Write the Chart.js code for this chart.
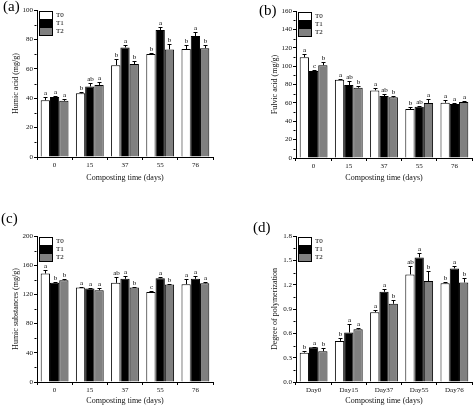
<!DOCTYPE html>
<html>
<head>
<meta charset="utf-8">
<script src="https://cdn.jsdelivr.net/npm/chart.js@4"></script>
<style>
  body { margin: 0; background: #fff; }
  #wrap { position: relative; width: 474px; height: 406px; }
  canvas { position: absolute; }
  .tag { position: absolute; font-family: "Liberation Serif", serif; font-size: 15px; line-height: 15px; color: #000; }
</style>
</head>
<body>
<div id="wrap">
  <canvas id="pa" width="237" height="200" style="left:0;top:0"></canvas>
  <canvas id="pb" width="237" height="200" style="left:237px;top:0"></canvas>
  <canvas id="pc" width="237" height="206" style="left:0;top:200px"></canvas>
  <canvas id="pd" width="237" height="206" style="left:237px;top:200px"></canvas>
  <div class="tag" style="left:3px;top:-1px">(a)</div>
  <div class="tag" style="left:259px;top:3px">(b)</div>
  <div class="tag" style="left:1px;top:211px">(c)</div>
  <div class="tag" style="left:253px;top:220px">(d)</div>
</div>
<script>
const days = ["0", "15", "37", "55", "76"];
const dayNames = ["Day0", "Day15", "Day37", "Day55", "Day76"];
const seriesNames = ["T0", "T1", "T2"];

// (a) humic acid
const haT0 = [38.6, 43.4, 62.5, 70.0, 73.4];
const haT1 = [40.8, 48.0, 74.5, 86.4, 82.3];
const haT2 = [38.2, 49.0, 63.2, 73.2, 74.0];
const haErrT0 = [2.0, 1.0, 4.0, 0.5, 2.7];
const haErrT1 = [1.0, 2.5, 1.5, 2.3, 2.7];
const haErrT2 = [1.5, 2.0, 2.0, 3.6, 2.0];
const haSigT0 = ["a", "b", "b", "b", "b"];
const haSigT1 = ["a", "ab", "a", "a", "a"];
const haSigT2 = ["a", "a", "b", "b", "b"];

// (b) fulvic acid
const faT0 = [109.7, 85.3, 73.6, 53.2, 60.1];
const faT1 = [94.8, 79.4, 67.4, 55.8, 58.7];
const faT2 = [101.0, 76.5, 66.0, 59.8, 60.9];
const faErrT0 = [3.3, 1.0, 3.0, 2.5, 3.3];
const faErrT1 = [1.0, 4.0, 2.0, 0.7, 1.5];
const faErrT2 = [3.6, 1.5, 2.0, 4.0, 1.5];
const faSigT0 = ["a", "a", "a", "b", "a"];
const faSigT1 = ["c", "ab", "ab", "ab", "a"];
const faSigT2 = ["b", "b", "b", "a", "a"];

// (c) humic substances
const hsT0 = [148.6, 129.4, 135.8, 123.4, 134.0];
const hsT1 = [135.8, 128.0, 141.3, 142.2, 141.3];
const hsT2 = [139.4, 125.7, 129.4, 133.5, 135.3];
const hsErrT0 = [4.6, 1.0, 8.0, 1.4, 7.3];
const hsErrT1 = [1.4, 1.4, 3.7, 1.8, 3.7];
const hsErrT2 = [1.8, 3.7, 1.4, 1.0, 1.4];
const hsSigT0 = ["a", "a", "ab", "c", "a"];
const hsSigT1 = ["b", "a", "a", "a", "a"];
const hsSigT2 = ["b", "a", "b", "b", "a"];

// (d) degree of polymerization
const dpT0 = [0.362, 0.507, 0.861, 1.326, 1.219];
const dpT1 = [0.428, 0.610, 1.112, 1.536, 1.400];
const dpT2 = [0.379, 0.650, 0.964, 1.244, 1.227];
const dpErrT0 = [0.025, 0.03, 0.03, 0.10, 0.02];
const dpErrT1 = [0.005, 0.10, 0.03, 0.05, 0.03];
const dpErrT2 = [0.04, 0.01, 0.05, 0.12, 0.06];
const dpSigT0 = ["b", "b", "a", "ab", "b"];
const dpSigT1 = ["a", "a", "a", "a", "a"];
const dpSigT2 = ["b", "a", "b", "b", "b"];

const fills = ["#ffffff", "#000000", "#808080"];
const serif = "'Liberation Serif', 'Times New Roman', serif";

// error bars + significance letters
const errorBars = {
  id: "errorBars",
  afterDatasetsDraw(chart) {
    const ctx = chart.ctx;
    const y = chart.scales.y;
    ctx.save();
    ctx.strokeStyle = "#000";
    ctx.lineWidth = 1;
    ctx.fillStyle = "#000";
    ctx.font = "7px " + serif;
    ctx.textAlign = "center";
    ctx.textBaseline = "bottom";
    chart.data.datasets.forEach((ds, di) => {
      chart.getDatasetMeta(di).data.forEach((bar, i) => {
        const x = Math.round(bar.x) + 0.5;
        const top = Math.round(y.getPixelForValue(ds.data[i] + ds.errors[i])) + 0.5;
        ctx.beginPath();
        ctx.moveTo(x, bar.y);
        ctx.lineTo(x, top);
        ctx.moveTo(x - 2, top);
        ctx.lineTo(x + 2, top);
        ctx.stroke();
        ctx.fillText(ds.letters[i], x, top - 1);
      });
    });
    ctx.restore();
  }
};

// small minor ticks halfway between the y labels
const minorTicks = {
  id: "minorTicks",
  afterDraw(chart) {
    const ctx = chart.ctx;
    const y = chart.scales.y;
    const x0 = Math.round(chart.chartArea.left) - 0.5;
    ctx.save();
    ctx.strokeStyle = "#000";
    ctx.lineWidth = 1;
    ctx.beginPath();
    for (let i = 0; i < y.ticks.length - 1; i++) {
      const mid = (y.ticks[i].value + y.ticks[i + 1].value) / 2;
      const py = Math.round(y.getPixelForValue(mid)) + 0.5;
      ctx.moveTo(x0, py);
      ctx.lineTo(x0 - 2, py);
    }
    ctx.stroke();
    ctx.restore();
  }
};

// legend drawn inside the plot, top left
const boxLegend = {
  id: "boxLegend",
  afterDraw(chart) {
    const ctx = chart.ctx;
    const a = chart.chartArea;
    const x0 = Math.round(a.left) + 2;
    let y0 = Math.round(a.top) + 1;
    ctx.save();
    ctx.font = "7px " + serif;
    ctx.textBaseline = "middle";
    chart.data.datasets.forEach((ds) => {
      ctx.fillStyle = ds.backgroundColor;
      ctx.fillRect(x0, y0, 14, 8);
      ctx.strokeStyle = "#000";
      ctx.strokeRect(x0 + 0.5, y0 + 0.5, 13, 8);
      ctx.fillStyle = "#000";
      ctx.fillText(ds.label, x0 + 17, y0 + 4.5);
      y0 += 8;
    });
    ctx.restore();
  }
};

function panel(id, labels, means, errs, sigs, yMax, yStep, decimals, yTitle, box) {
  const W = 237;
  const yW = 25;
  const xH = box.title + 4 - box.b;
  const datasets = seriesNames.map((name, k) => ({
    label: name,
    data: means[k],
    errors: errs[k],
    letters: sigs[k],
    backgroundColor: fills[k],
    borderColor: "#000",
    borderWidth: 1,
    categoryPercentage: 0.79,
    barPercentage: 1.0
  }));
  new Chart(document.getElementById(id), {
    type: "bar",
    data: { labels: labels, datasets: datasets },
    options: {
      responsive: false,
      animation: false,
      devicePixelRatio: 1,
      layout: { padding: { left: box.l - yW, top: box.t, right: W - box.r, bottom: box.H - box.b - xH } },
      plugins: { legend: { display: false }, tooltip: { enabled: false } },
      scales: {
        x: {
          grid: { drawOnChartArea: false, color: "#000", tickLength: 3 },
          border: { color: "#000", width: 1 },
          ticks: { color: "#111", padding: 1, font: { family: serif, size: 7 } },
          title: { display: true, text: "Composting time (days)", color: "#111", padding: 0,
                   font: { family: serif, size: 8, lineHeight: 1 } },
          afterFit(s) { s.height = xH; }
        },
        y: {
          min: 0,
          max: yMax,
          grid: { drawOnChartArea: false, color: "#000", tickLength: 3 },
          border: { color: "#000", width: 1 },
          ticks: { stepSize: yStep, color: "#111", padding: 1, font: { family: serif, size: 7 },
                   callback: (v) => Number(v).toFixed(decimals) },
          title: { display: true, text: yTitle, color: "#111", padding: 0,
                   font: { family: serif, size: 8, lineHeight: 1 } },
          afterFit(s) { s.width = yW; }
        }
      }
    },
    plugins: [errorBars, minorTicks, boxLegend]
  });
}

panel("pa", days, [haT0, haT1, haT2], [haErrT0, haErrT1, haErrT2], [haSigT0, haSigT1, haSigT2],
      100, 20, 0, "Humic acid (mg/g)", { l: 37, t: 10, r: 213, b: 157, H: 200, title: 178 });
panel("pb", days, [faT0, faT1, faT2], [faErrT0, faErrT1, faErrT2], [faSigT0, faSigT1, faSigT2],
      160, 20, 0, "Fulvic acid (mg/g)", { l: 59, t: 11, r: 235, b: 158, H: 200, title: 178 });
panel("pc", days, [hsT0, hsT1, hsT2], [hsErrT0, hsErrT1, hsErrT2], [hsSigT0, hsSigT1, hsSigT2],
      200, 40, 0, "Humic substances (mg/g)", { l: 37, t: 36, r: 213, b: 182, H: 206, title: 201 });
panel("pd", dayNames, [dpT0, dpT1, dpT2], [dpErrT0, dpErrT1, dpErrT2], [dpSigT0, dpSigT1, dpSigT2],
      1.8, 0.3, 1, "Degree of polymerization", { l: 59, t: 36, r: 235, b: 182, H: 206, title: 201 });
</script>
</body>
</html>
